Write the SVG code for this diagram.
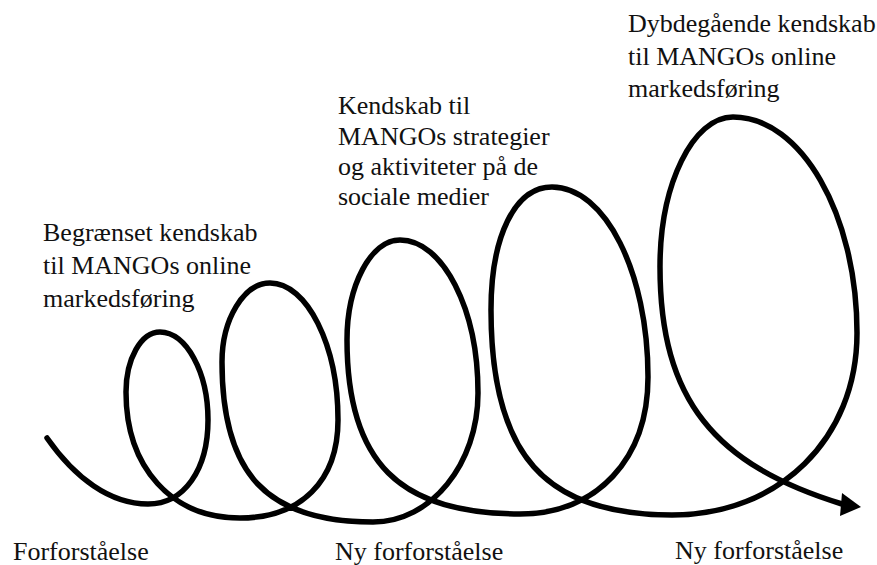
<svg xmlns="http://www.w3.org/2000/svg" width="877" height="565" viewBox="0 0 877 565">
<style>
text{font-family:'Liberation Serif','Times New Roman','DejaVu Serif',serif;font-size:26px;fill:#111;}
.spiral{fill:none;stroke:#000;stroke-width:5.5;stroke-linecap:round;stroke-linejoin:round;}
.head{fill:#000;stroke:none;}
</style>
<rect width="877" height="565" fill="#fff"/>
<g id="connectors">
<path class="spiral" d="M47,438 C75,478 110,504 148,504
C184,504 208,470 208,420
C208,372 186,332 160,332
C141,332 126,359 126,392
C126,468 172,518 240,518
C301,518 338,481 338,420
C338,345 307,283 270,283
C244,283 222,319 222,362
C222,474 267,522 373,522
C431,522 478,464 478,393
C478,309 443,240 400,240
C371,240 347,285 347,340
C347,462 399,514 520,514
C597,514 648,459 648,377
C648,272 605,187 552,187
C515,187 491,236 491,310
C491,455 545,515 672,515
C779,515 857,439 857,333
C857,214 801,117 733,117
C693,117 660,184 660,267
C660,400 715,465 842,504"/>
<polygon class="head" points="842,493 861,507 840,516"/>
</g>
<g id="label-begraenset" font-family="Liberation Serif, serif">
<text x="43" y="241">Begrænset kendskab</text>
<text x="43" y="274">til MANGOs online</text>
<text x="43" y="307">markedsføring</text>
</g>
<g id="label-kendskab" font-family="Liberation Serif, serif">
<text x="338" y="114">Kendskab til</text>
<text x="338" y="145">MANGOs strategier</text>
<text x="338" y="175">og aktiviteter på de</text>
<text x="338" y="205">sociale medier</text>
</g>
<g id="label-dybdegaaende" font-family="Liberation Serif, serif">
<text x="628" y="32">Dybdegående kendskab</text>
<text x="628" y="65">til MANGOs online</text>
<text x="628" y="97">markedsføring</text>
</g>
<g id="label-forforstaaelse" font-family="Liberation Serif, serif">
<text x="13" y="560">Forforståelse</text>
</g>
<g id="label-ny1" font-family="Liberation Serif, serif">
<text x="335" y="560">Ny forforståelse</text>
</g>
<g id="label-ny2" font-family="Liberation Serif, serif">
<text x="675" y="559">Ny forforståelse</text>
</g>
</svg>
